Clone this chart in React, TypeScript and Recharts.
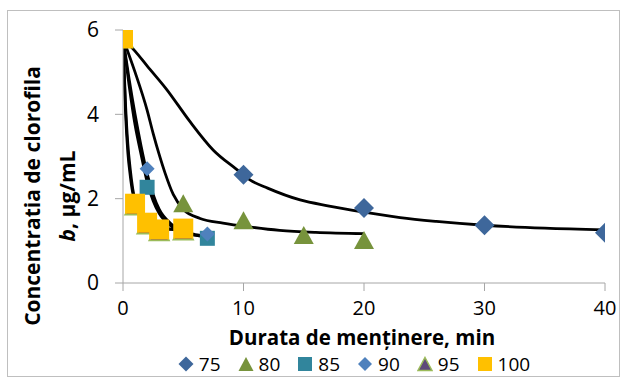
import React from 'react';
import { ComposedChart, Line, Scatter, XAxis, YAxis, Label } from 'recharts';

const FONT = '"Open Sans", "Noto Sans", sans-serif';

const xTicks = [0, 10, 20, 30, 40];
const yTicks = [0, 2, 4, 6];
const seriesNames = ['75', '80', '85', '90', '95', '100'];

// measured points
const x75 = [0, 10, 20, 30, 40];
const y75 = [5.8, 2.57, 1.78, 1.37, 1.19];
const x80 = [0, 5, 10, 15, 20];
const y80 = [5.8, 1.89, 1.49, 1.14, 1.02];
const x85 = [0, 2, 7];
const y85 = [5.8, 2.27, 1.06];
const x90 = [0, 2, 7];
const y90 = [5.8, 2.71, 1.16];
const x95 = [0, 1, 2, 3, 5];
const y95 = [5.8, 1.83, 1.38, 1.22, 1.24];
const x100 = [0, 1, 2, 3, 5];
const y100 = [5.8, 1.88, 1.43, 1.27, 1.29];

// trend lines
const tx75 = [0, 1, 2, 3.6, 5.5, 7.5, 9.4, 10.5, 12, 14.7, 17, 20, 23, 26, 30, 35, 40];
const ty75 = [5.8, 5.5, 5.15, 4.6, 3.85, 3.15, 2.7, 2.45, 2.25, 1.97, 1.83, 1.68, 1.55, 1.46, 1.37, 1.3, 1.26];
const tx80 = [0, 1, 2, 2.5, 3, 3.5, 4.17, 5, 6.4, 8.3, 10.5, 13, 16, 20];
const ty80 = [5.8, 5.0, 4.1, 3.55, 3.05, 2.6, 2.1, 1.75, 1.53, 1.42, 1.33, 1.25, 1.2, 1.17];
const tx85 = [0, 0.5, 1, 1.5, 2, 2.5, 3, 4, 5, 6, 7];
const ty85 = [5.8, 4.7, 3.75, 3.05, 2.4, 1.95, 1.65, 1.35, 1.2, 1.13, 1.1];
const tx90 = [0, 0.5, 1, 1.5, 2, 2.5, 3, 4, 5, 6, 7];
const ty90 = [5.8, 4.85, 4.0, 3.25, 2.6, 2.1, 1.75, 1.4, 1.22, 1.15, 1.12];
const tx95 = [0, 0.2, 0.4, 0.6, 0.8, 1, 1.5, 2, 3, 4, 5];
const ty95 = [5.8, 4.3, 3.3, 2.7, 2.25, 1.95, 1.6, 1.45, 1.32, 1.27, 1.25];
const tx100 = [0, 0.2, 0.4, 0.6, 0.8, 1, 1.5, 2, 3, 4, 5];
const ty100 = [5.8, 4.1, 3.1, 2.55, 2.15, 1.92, 1.62, 1.47, 1.33, 1.28, 1.26];

const pts = (xs: number[], ys: number[]) => xs.map((x, i) => ({ x, y: ys[i] }));

const C75 = '#3E679B';
const C80 = '#77933C';
const C85 = '#31859C';
const C90 = '#4F81BD';
const C95 = '#5F497A';
const C95S = '#9BBB59';
const C100 = '#FFC000';

const diamond = (r: number, fill: string) => (p: any) => {
  const { cx, cy } = p;
  return <polygon points={`${cx},${cy - r} ${cx + r},${cy} ${cx},${cy + r} ${cx - r},${cy}`} fill={fill} />;
};
const square = (h: number, fill: string) => (p: any) => {
  const { cx, cy } = p;
  return <rect x={cx - h} y={cy - h} width={2 * h} height={2 * h} fill={fill} />;
};
const triangle = (w: number, ht: number, fill: string, stroke?: string) => (p: any) => {
  const { cx, cy } = p;
  return (
    <polygon
      points={`${cx},${cy - ht / 2} ${cx + w / 2},${cy + ht / 2} ${cx - w / 2},${cy + ht / 2}`}
      fill={fill}
      stroke={stroke || 'none'}
      strokeWidth={stroke ? 1.5 : 0}
    />
  );
};

const legendMarker = (i: number) => {
  switch (i) {
    case 0:
      return <polygon points="8,0.5 15.5,8 8,15.5 0.5,8" fill={C75} />;
    case 1:
      return <polygon points="8,1 15.5,15 0.5,15" fill={C80} />;
    case 2:
      return <rect x={1} y={1} width={14} height={14} fill={C85} />;
    case 3:
      return <polygon points="8,1 15,8 8,15 1,8" fill={C90} />;
    case 4:
      return <polygon points="8,1.5 15,14.5 1,14.5" fill={C95} stroke={C95S} strokeWidth={1.5} />;
    default:
      return <rect x={1} y={1} width={14} height={14} fill={C100} />;
  }
};

const TITLE_STYLE = { fontFamily: FONT, fontWeight: 700, fontSize: 21 } as const;

const YTitle = () => (
  <g style={TITLE_STYLE} fill="#000">
    <text x={32} y={196} transform="rotate(-90, 32, 196)" textAnchor="middle" dominantBaseline="central">
      Concentratia de clorofila
    </text>
    <text x={67} y={196} transform="rotate(-90, 67, 196)" textAnchor="middle" dominantBaseline="central">
      <tspan fontStyle="italic">b</tspan>, µg/mL
    </text>
  </g>
);

const XTitle = () => (
  <text
    x={362}
    y={337}
    textAnchor="middle"
    dominantBaseline="central"
    style={{ ...TITLE_STYLE, fontSize: 20.5 }}
    fill="#000"
  >
    Durata de menținere, min
  </text>
);

export default function App() {
  const axisColor = '#A6A6A6';
  const yTick = { fill: '#000', fontSize: 21, fontFamily: FONT };
  const xTick = { fill: '#000', fontSize: 20, fontFamily: FONT };
  return (
    <div style={{ position: 'absolute', left: 0, top: 0, width: 624, height: 378, background: '#fff' }}>
      <div
        style={{
          position: 'absolute',
          left: 7,
          top: 10,
          width: 613,
          height: 367,
          border: '1px solid #BFBFBF',
          boxSizing: 'border-box',
        }}
      />
      <ComposedChart
        width={624}
        height={378}
        margin={{ top: 30, right: 19, bottom: 65, left: 0 }}
        style={{ position: 'absolute', left: 0, top: 0 }}
      >
        <XAxis
          type="number"
          dataKey="x"
          domain={[0, 40]}
          ticks={xTicks}
          interval={0}
          height={30}
          stroke={axisColor}
          tickLine={{ stroke: axisColor }}
          tickSize={8}
          tickMargin={10}
          tick={xTick}
          allowDataOverflow
        >
          <Label content={() => <XTitle />} />
        </XAxis>
        <YAxis
          type="number"
          dataKey="y"
          domain={[0, 6]}
          ticks={yTicks}
          interval={0}
          width={123}
          stroke={axisColor}
          tickLine={{ stroke: axisColor }}
          tickSize={8}
          tickMargin={16}
          tick={yTick}
          allowDataOverflow
        >
          <Label content={() => <YTitle />} />
        </YAxis>

        <Scatter name="75" data={pts(x75, y75)} dataKey="y" shape={diamond(10, C75)} isAnimationActive={false} />
        <Line data={pts(tx75, ty75)} dataKey="y" type="monotone" stroke="#000" strokeWidth={2.8} dot={false} isAnimationActive={false} />
        <Scatter name="80" data={pts(x80, y80)} dataKey="y" shape={triangle(20, 18, C80)} isAnimationActive={false} />
        <Line data={pts(tx80, ty80)} dataKey="y" type="monotone" stroke="#000" strokeWidth={2.8} dot={false} isAnimationActive={false} />
        <Line data={pts(tx85, ty85)} dataKey="y" type="monotone" stroke="#000" strokeWidth={2.8} dot={false} isAnimationActive={false} />
        <Line data={pts(tx90, ty90)} dataKey="y" type="monotone" stroke="#000" strokeWidth={2.8} dot={false} isAnimationActive={false} />
        <Line data={pts(tx95, ty95)} dataKey="y" type="monotone" stroke="#000" strokeWidth={2.8} dot={false} isAnimationActive={false} />
        <Line data={pts(tx100, ty100)} dataKey="y" type="monotone" stroke="#000" strokeWidth={2.8} dot={false} isAnimationActive={false} />
        <Scatter name="85" data={pts(x85, y85)} dataKey="y" shape={square(7.5, C85)} isAnimationActive={false} />
        <Scatter name="90" data={pts(x90, y90)} dataKey="y" shape={diamond(7.5, C90)} isAnimationActive={false} />
        <Scatter name="95" data={pts(x95, y95)} dataKey="y" shape={triangle(20, 18, C95, C95S)} isAnimationActive={false} />
        <Scatter name="100" data={pts(x100, y100)} dataKey="y" shape={square(10, C100)} isAnimationActive={false} />
      </ComposedChart>
      <div
        style={{
          position: 'absolute',
          left: 0,
          width: 708,
          top: 355,
          height: 18,
          display: 'flex',
          justifyContent: 'center',
          alignItems: 'center',
          gap: 17,
          fontFamily: FONT,
          fontSize: 19,
          color: '#000',
          lineHeight: '18px',
        }}
      >
        {seriesNames.map((n, i) => (
          <div key={n} style={{ display: 'flex', alignItems: 'center', gap: 5, height: 18 }}>
            <svg width={16} height={16}>{legendMarker(i)}</svg>
            <span style={{ lineHeight: '18px', height: 18, display: 'inline-block' }}>{n}</span>
          </div>
        ))}
      </div>
    </div>
  );
}
